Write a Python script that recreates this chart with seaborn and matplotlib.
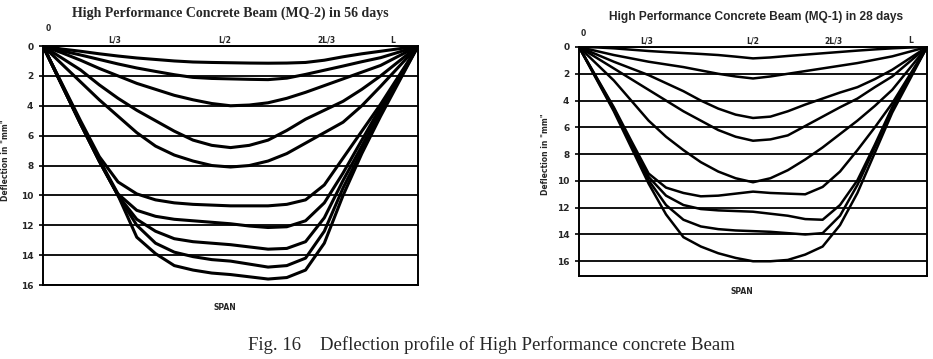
"""
Profils de fleche des poutres en beton haute performance (MQ-2 a 56 jours, MQ-1 a 28 jours).
"""

import matplotlib

matplotlib.use("Agg")
import matplotlib.pyplot as plt
import pandas as pd
import seaborn as sns

# -- Donnees -------------------------------------------------------------------
# position le long de la portee (fraction de L)
span_pos = [0.0, 0.05, 0.1, 0.15, 0.2, 0.25, 0.3, 0.35, 0.4, 0.45, 0.5,
            0.55, 0.6, 0.65, 0.7, 0.75, 0.8, 0.85, 0.9, 0.95, 1.0]

# fleches (mm) de la poutre MQ-2 a 56 jours, une liste par palier de charge
mq2_curves = [
    [0, 0.2, 0.35, 0.52, 0.67, 0.8, 0.9, 1.0, 1.07, 1.1, 1.12,
     1.14, 1.15, 1.14, 1.1, 0.95, 0.72, 0.52, 0.35, 0.18, 0],
    [0, 0.32, 0.6, 0.9, 1.2, 1.47, 1.7, 1.92, 2.1, 2.17, 2.2,
     2.23, 2.25, 2.15, 1.9, 1.62, 1.34, 1.05, 0.78, 0.4, 0],
    [0, 0.45, 0.95, 1.5, 2.0, 2.5, 2.9, 3.3, 3.6, 3.85, 4.0,
     3.95, 3.8, 3.5, 3.1, 2.65, 2.2, 1.75, 1.3, 0.65, 0],
    [0, 0.8, 1.6, 2.6, 3.5, 4.3, 5.0, 5.7, 6.3, 6.65, 6.8,
     6.65, 6.3, 5.65, 4.9, 4.3, 3.7, 2.9, 2.0, 1.0, 0],
    [0, 1.2, 2.4, 3.6, 4.7, 5.8, 6.7, 7.3, 7.7, 8.0, 8.1,
     8.0, 7.7, 7.2, 6.5, 5.8, 5.1, 4.0, 2.7, 1.35, 0],
    [0, 2.5, 5.0, 7.4, 9.1, 9.9, 10.3, 10.5, 10.6, 10.65, 10.7,
     10.7, 10.7, 10.6, 10.3, 9.3, 7.5, 5.7, 3.9, 1.95, 0],
    [0, 2.55, 5.1, 7.6, 9.9, 11.0, 11.4, 11.6, 11.7, 11.8, 11.9,
     12.05, 12.15, 12.1, 11.7, 10.5, 8.5, 6.3, 4.1, 2.05, 0],
    [0, 2.6, 5.2, 7.7, 10.0, 11.6, 12.4, 12.9, 13.1, 13.2, 13.3,
     13.45, 13.6, 13.55, 13.1, 11.5, 9.0, 6.7, 4.3, 2.15, 0],
    [0, 2.6, 5.2, 7.7, 10.0, 12.0, 13.2, 13.8, 14.1, 14.3, 14.4,
     14.6, 14.8, 14.7, 14.2, 12.4, 9.5, 7.0, 4.5, 2.25, 0],
    [0, 2.6, 5.2, 7.7, 10.0, 12.8, 13.9, 14.7, 15.0, 15.2, 15.3,
     15.45, 15.6, 15.5, 15.0, 13.2, 10.0, 7.2, 4.7, 2.35, 0],
]

# fleches (mm) de la poutre MQ-1 a 28 jours
mq1_curves = [
    [0, 0.03, 0.1, 0.2, 0.3, 0.38, 0.45, 0.52, 0.6, 0.72, 0.85,
     0.78, 0.67, 0.57, 0.47, 0.37, 0.27, 0.18, 0.1, 0.04, 0],
    [0, 0.3, 0.6, 0.85, 1.1, 1.3, 1.5, 1.75, 2.0, 2.2, 2.35,
     2.2, 2.0, 1.8, 1.6, 1.4, 1.2, 0.95, 0.7, 0.35, 0],
    [0, 0.55, 1.1, 1.6, 2.1, 2.7, 3.3, 4.0, 4.6, 5.05, 5.3,
     5.2, 4.8, 4.3, 3.85, 3.4, 3.0, 2.4, 1.7, 0.85, 0],
    [0, 0.8, 1.6, 2.4, 3.2, 4.0, 4.8, 5.5, 6.2, 6.7, 7.0,
     6.9, 6.6, 5.9, 5.2, 4.5, 3.85, 3.0, 2.2, 1.1, 0],
    [0, 1.25, 2.5, 4.0, 5.5, 6.7, 7.7, 8.6, 9.3, 9.8, 10.1,
     9.8, 9.2, 8.4, 7.5, 6.5, 5.5, 4.4, 3.2, 1.6, 0],
    [0, 2.25, 4.5, 7.0, 9.45, 10.5, 10.9, 11.15, 11.1, 10.95, 10.8,
     10.9, 10.95, 11.0, 10.45, 9.3, 7.7, 6.0, 4.2, 2.1, 0],
    [0, 2.3, 4.6, 7.2, 9.7, 11.1, 11.8, 12.1, 12.2, 12.25, 12.3,
     12.45, 12.6, 12.85, 12.9, 11.8, 9.95, 7.3, 4.5, 2.25, 0],
    [0, 2.35, 4.7, 7.3, 9.95, 11.8, 12.9, 13.4, 13.6, 13.7, 13.75,
     13.8, 13.9, 14.0, 13.9, 12.6, 10.3, 7.5, 4.6, 2.3, 0],
    [0, 2.4, 4.8, 7.5, 10.2, 12.5, 14.2, 14.9, 15.4, 15.75, 16.0,
     16.0, 15.9, 15.5, 14.9, 13.3, 10.9, 7.9, 4.9, 2.45, 0],
]

span_labels = ["0", "L/3", "L/2", "2L/3", "L"]
y_ticks = [0, 2, 4, 6, 8, 10, 12, 14, 16]


def to_long(curves):
    rows = []
    for i, vals in enumerate(curves):
        for x, v in zip(span_pos, vals):
            rows.append({"pos": x, "deflection": v, "stage": i})
    return pd.DataFrame(rows)


sns.set_style("white")
plt.rcParams["font.family"] = ["DejaVu Sans"]

fig = plt.figure(figsize=(9.33, 3.59), dpi=100)
ax_l = fig.add_axes([0.0461, 0.2061, 0.4020, 0.6657])
ax_r = fig.add_axes([0.6206, 0.2312, 0.3730, 0.6379])


def draw_panel(ax, curves, ymax, lw, label_pos, zero_y, lab_y, ylab_xy, span_xy):
    df = to_long(curves)
    sns.lineplot(
        data=df, x="pos", y="deflection", hue="stage",
        palette=["black"] * len(curves), linewidth=lw,
        legend=False, sort=False, ax=ax,
    )
    for line in ax.get_lines():
        line.set_solid_joinstyle("round")
        line.set_solid_capstyle("round")
    ax.set_xlim(0, 1)
    ax.set_ylim(ymax, 0)
    ax.set_xticks([])
    ax.set_yticks(y_ticks)
    ax.set_yticklabels([str(t) for t in y_ticks], fontsize=6.5, fontweight="bold")
    ax.tick_params(axis="y", length=3, width=1.2, color="black", pad=4, left=True)
    ax.grid(axis="y", color="black", linewidth=1.3)
    ax.set_axisbelow(True)
    for sp in ax.spines.values():
        sp.set_color("black")
        sp.set_linewidth(1.4)
    ax.set_xlabel("")
    ax.set_ylabel('Deflection in "mm"', fontsize=5.5, fontweight="bold")
    ax.yaxis.set_label_coords(*ylab_xy)
    ax.text(span_xy[0], span_xy[1], "SPAN", transform=ax.transAxes,
            ha="center", va="center", fontsize=5.5, fontweight="bold")
    # reperes le long de la portee au-dessus du graphique
    for lab, xp in zip(span_labels, label_pos):
        yy = zero_y if lab == "0" else lab_y
        ax.text(xp, yy, lab, transform=ax.transAxes, ha="center", va="center",
                fontsize=5.5, fontweight="bold")


draw_panel(ax_l, mq2_curves, 16, 2.2, [0.013, 0.19, 0.485, 0.757, 0.933],
           1.072, 1.025, (-0.088, 0.523), (0.485, -0.096))
draw_panel(ax_r, mq1_curves, 17.1, 1.8, [0.011, 0.195, 0.498, 0.73, 0.954],
           1.061, 1.027, (-0.083, 0.533), (0.468, -0.066))

fig.text(230 / 933, 1 - 13 / 359, "High Performance Concrete Beam (MQ-2) in 56 days",
         ha="center", va="center", fontsize=10, fontweight="bold",
         family="Liberation Serif")
fig.text(756 / 933, 1 - 17 / 359, "High Performance Concrete Beam (MQ-1) in 28 days",
         ha="center", va="center", fontsize=8.6, fontweight="bold",
         family="Liberation Sans")
fig.text(491 / 933, 1 - 345 / 359,
         "Fig. 16    Deflection profile of High Performance concrete Beam",
         ha="center", va="center", fontsize=13.5, family="Liberation Serif")

fig.savefig("out.png", dpi=100)
plt.close(fig)
